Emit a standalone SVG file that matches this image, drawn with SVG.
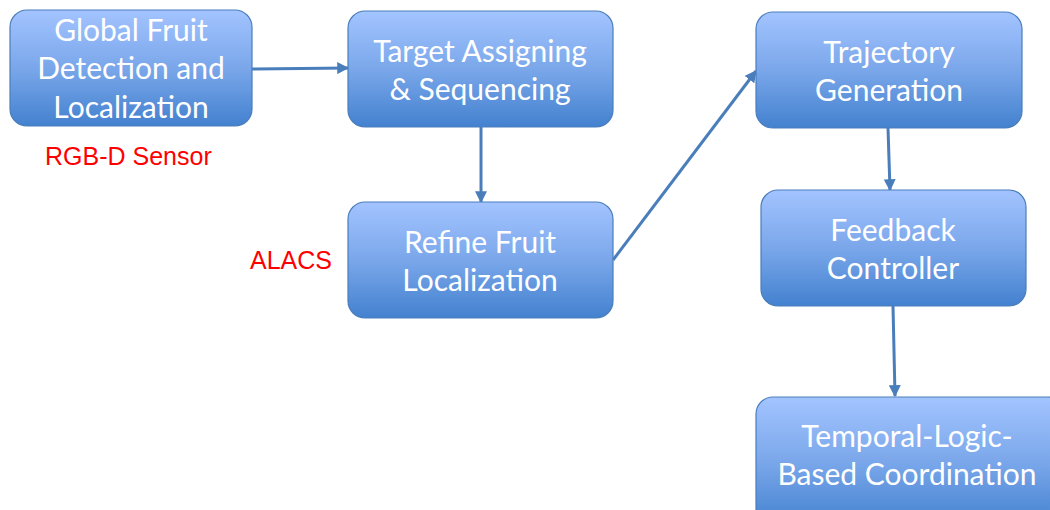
<svg xmlns="http://www.w3.org/2000/svg" width="1050" height="510" viewBox="0 0 1050 510">
<defs>
<linearGradient id="g" x1="0" y1="0" x2="0" y2="1">
<stop offset="0" stop-color="#a3c4ff"/>
<stop offset="0.5" stop-color="#7aa7ea"/>
<stop offset="1" stop-color="#4381cf"/>
</linearGradient>
<marker id="ah" viewBox="0 0 10 10" refX="9" refY="5" markerWidth="4" markerHeight="4" orient="auto" markerUnits="strokeWidth">
<path d="M0,0 L10,5 L0,10 z" fill="#4a7ebb"/>
</marker>
<style>
.box{fill:url(#g);stroke:#4a7ebb;stroke-width:1.2}
.t{font-family:Lato,"Open Sans",sans-serif;font-size:30px;fill:#fff;text-anchor:middle}
.r{font-family:"Liberation Sans",Arial,sans-serif;font-size:25px;fill:#ff0000}
.c{stroke:#4a7ebb;stroke-width:3;fill:none;marker-end:url(#ah)}
</style>
</defs>
<rect width="1050" height="510" fill="#fff"/>
<g id="connectors">
<line class="c" x1="252" y1="69" x2="348" y2="68"/>
<line class="c" x1="481" y1="127" x2="481" y2="202"/>
<line class="c" x1="613" y1="260" x2="756" y2="71"/>
<line class="c" x1="888" y1="128" x2="890" y2="190"/>
<line class="c" x1="893" y1="306" x2="895" y2="396"/>
</g>
<g id="n1"><rect class="box" x="10" y="10" width="242" height="116" rx="17"/>
<text class="t" x="131" y="41">Global Fruit</text><text class="t" x="131" y="79">Detection and</text><text class="t" x="131" y="118">Localization</text></g>
<g id="n2"><rect class="box" x="348" y="11" width="265" height="116" rx="17"/>
<text class="t" x="480" y="62">Target Assigning</text><text class="t" x="480" y="100">&amp; Sequencing</text></g>
<g id="n3"><rect class="box" x="348" y="202" width="265" height="116" rx="17"/>
<text class="t" x="480" y="253">Refine Fruit</text><text class="t" x="480" y="291">Localization</text></g>
<g id="n4"><rect class="box" x="756" y="12" width="266" height="116" rx="17"/>
<text class="t" x="889" y="63">Trajectory</text><text class="t" x="889" y="101">Generation</text></g>
<g id="n5"><rect class="box" x="761" y="190" width="265" height="116" rx="17"/>
<text class="t" x="893" y="241">Feedback</text><text class="t" x="893" y="279">Controller</text></g>
<g id="n6"><rect class="box" x="756" y="397" width="310" height="130" rx="17"/>
<text class="t" x="907" y="447">Temporal-Logic-</text><text class="t" x="907" y="485">Based Coordination</text></g>
<g id="labels">
<text class="r" x="45" y="165">RGB-D Sensor</text>
<text class="r" x="250" y="269">ALACS</text>
</g>
</svg>
